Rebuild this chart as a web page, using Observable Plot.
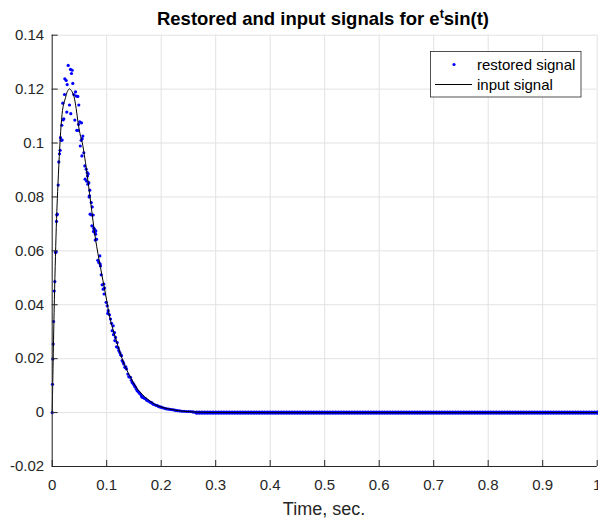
<!DOCTYPE html>
<html>
<head>
<meta charset="utf-8">
<script src="https://cdn.jsdelivr.net/npm/d3@7"></script>
<script src="https://cdn.jsdelivr.net/npm/@observablehq/plot@0.6"></script>
<style>
  html, body { margin: 0; padding: 0; background: white; }
  #chart { width: 598px; height: 525px; }
</style>
</head>
<body>
<div id="chart"></div>
<script>
// ---- data ----
const xTicks = [0, 0.1, 0.2, 0.3, 0.4, 0.5, 0.6, 0.7, 0.8, 0.9, 1];
const yTicks = [-0.02, 0, 0.02, 0.04, 0.06, 0.08, 0.1, 0.12, 0.14];

const inputTime  = [0, 0.001, 0.002, 0.004, 0.006, 0.008, 0.010, 0.013, 0.0165, 0.020, 0.0244, 0.028, 0.0317, 0.036, 0.0397, 0.044, 0.0477, 0.052, 0.055, 0.060, 0.064, 0.0703, 0.0795, 0.0886, 0.0978, 0.107, 0.116, 0.1253, 0.1345, 0.1437, 0.156, 0.1743, 0.1927, 0.223, 0.253, 0.28, 0.35, 1];
const inputValue = [0, 0.011, 0.022, 0.042, 0.058, 0.072, 0.082, 0.095, 0.107, 0.1135, 0.1168, 0.1192, 0.1201, 0.1192, 0.1174, 0.1128, 0.1072, 0.1025, 0.1003, 0.0942, 0.0884, 0.0785, 0.0643, 0.0538, 0.044, 0.0341, 0.0279, 0.0217, 0.0168, 0.0131, 0.0088, 0.0051, 0.0026, 0.001, 0.0003, 0.0001, 0, 0];

const restoredTime = [0, 0.0005, 0.0011, 0.0018, 0.0024, 0.0037, 0.0048, 0.006, 0.0073, 0.0079, 0.0085, 0.0092, 0.011, 0.0121, 0.0134, 0.0145, 0.0152, 0.0165, 0.0176, 0.0183, 0.0195, 0.0202, 0.0213, 0.0226, 0.0232, 0.0257, 0.0268, 0.0275, 0.0293, 0.0317, 0.0336, 0.0341, 0.0354, 0.0367, 0.0378, 0.0397, 0.0415, 0.0428, 0.044, 0.0451, 0.047, 0.0475, 0.0483, 0.0488, 0.0506, 0.0515, 0.0532, 0.0538, 0.0545, 0.055, 0.0562, 0.058, 0.0598, 0.0605, 0.0624, 0.063, 0.0642, 0.0648, 0.0654, 0.066, 0.0672, 0.0678, 0.0684, 0.069, 0.0696, 0.0716, 0.0721, 0.0728, 0.0734, 0.0752, 0.0758, 0.0763, 0.0776, 0.0782, 0.079, 0.0795, 0.08, 0.0807, 0.0813, 0.0837, 0.0856, 0.0874, 0.088, 0.0886, 0.0899, 0.0917, 0.0936, 0.0947, 0.0952, 0.096, 0.099, 0.1009, 0.102, 0.1028, 0.1051, 0.107, 0.1088, 0.1101, 0.1119, 0.1125, 0.1143, 0.115, 0.1161, 0.118, 0.1192, 0.1211, 0.1222, 0.124, 0.1255, 0.1272, 0.1284, 0.1303, 0.1314, 0.1333, 0.135, 0.1363, 0.1388, 0.1406, 0.142, 0.1437, 0.1452, 0.1468, 0.1485, 0.1498, 0.1515, 0.1528, 0.1545, 0.156, 0.1575, 0.159, 0.1605, 0.162, 0.1635, 0.1651, 0.167, 0.169, 0.1712, 0.1735, 0.1755, 0.1773, 0.1795, 0.1815, 0.1835, 0.1855, 0.188, 0.1905, 0.1927, 0.195, 0.1975, 0.2, 0.2025, 0.2048, 0.2075, 0.21, 0.213, 0.216, 0.2195, 0.2232, 0.2265, 0.23, 0.234, 0.238, 0.242, 0.246, 0.25, 0.2538, 0.2575, 0.26];
const restoredValue = [0, 0.0105, 0.0199, 0.0254, 0.0338, 0.0451, 0.0486, 0.0594, 0.0596, 0.0709, 0.0733, 0.0736, 0.0844, 0.093, 0.096, 0.0973, 0.102, 0.101, 0.1066, 0.1011, 0.1148, 0.1086, 0.109, 0.118, 0.1238, 0.1232, 0.1115, 0.1217, 0.1288, 0.1141, 0.1273, 0.1109, 0.1258, 0.127, 0.1221, 0.118, 0.1085, 0.119, 0.1174, 0.1047, 0.1173, 0.1047, 0.1069, 0.1141, 0.1079, 0.0989, 0.101, 0.1075, 0.0952, 0.1016, 0.1026, 0.0964, 0.0915, 0.0866, 0.0903, 0.0859, 0.089, 0.0878, 0.0847, 0.0886, 0.0853, 0.08, 0.0804, 0.0825, 0.0736, 0.0779, 0.0733, 0.0693, 0.0763, 0.0733, 0.0672, 0.0684, 0.068, 0.0668, 0.064, 0.0662, 0.0674, 0.0643, 0.0643, 0.0565, 0.0557, 0.0581, 0.0551, 0.0544, 0.0511, 0.0474, 0.0458, 0.0477, 0.044, 0.0462, 0.0409, 0.0396, 0.0368, 0.0378, 0.0363, 0.0347, 0.0331, 0.0304, 0.0322, 0.0289, 0.0297, 0.0267, 0.0279, 0.0244, 0.026, 0.024, 0.023, 0.0223, 0.0215, 0.0211, 0.0193, 0.0186, 0.018, 0.0168, 0.017, 0.0162, 0.0143, 0.0133, 0.0132, 0.0131, 0.012, 0.0112, 0.0108, 0.0104, 0.0098, 0.0094, 0.0087, 0.0081, 0.0079, 0.0075, 0.0071, 0.0069, 0.0062, 0.0057, 0.0056, 0.0053, 0.0051, 0.0046, 0.0044, 0.0042, 0.0039, 0.0037, 0.0035, 0.0031, 0.0029, 0.0027, 0.0026, 0.0023, 0.0021, 0.002, 0.0018, 0.0017, 0.0015, 0.0014, 0.0013, 0.0012, 0.0011, 0.001, 0.0008, 0.0007, 0.0006, 0.0005, 0.0005, 0.0004, 0.0004, 0.0004, 0.0003, 0.0002];

// restored samples on the flat tail (value 0)
const tailTime = [0.265, 0.27, 0.275, 0.28, 0.285, 0.29, 0.295, 0.3, 0.305, 0.31, 0.315, 0.32, 0.325, 0.33, 0.335, 0.34, 0.345, 0.35, 0.355, 0.36, 0.365, 0.37, 0.375, 0.38, 0.385, 0.39, 0.395, 0.4, 0.405, 0.41, 0.415, 0.42, 0.425, 0.43, 0.435, 0.44, 0.445, 0.45, 0.455, 0.46, 0.465, 0.47, 0.475, 0.48, 0.485, 0.49, 0.495, 0.5, 0.505, 0.51, 0.515, 0.52, 0.525, 0.53, 0.535, 0.54, 0.545, 0.55, 0.555, 0.56, 0.565, 0.57, 0.575, 0.58, 0.585, 0.59, 0.595, 0.6, 0.605, 0.61, 0.615, 0.62, 0.625, 0.63, 0.635, 0.64, 0.645, 0.65, 0.655, 0.66, 0.665, 0.67, 0.675, 0.68, 0.685, 0.69, 0.695, 0.7, 0.705, 0.71, 0.715, 0.72, 0.725, 0.73, 0.735, 0.74, 0.745, 0.75, 0.755, 0.76, 0.765, 0.77, 0.775, 0.78, 0.785, 0.79, 0.795, 0.8, 0.805, 0.81, 0.815, 0.82, 0.825, 0.83, 0.835, 0.84, 0.845, 0.85, 0.855, 0.86, 0.865, 0.87, 0.875, 0.88, 0.885, 0.89, 0.895, 0.9, 0.905, 0.91, 0.915, 0.92, 0.925, 0.93, 0.935, 0.94, 0.945, 0.95, 0.955, 0.96, 0.965, 0.97, 0.975, 0.98, 0.985, 0.99, 0.995, 1];
const tailValue = 0;

const titleMain = "Restored and input signals for e";
const titleSup = "t";
const titleEnd = "sin(t)";
const xLabel = "Time, sec.";
const legendLabels = ["restored signal", "input signal"];

// ---- build tables ----
const inputData = inputTime.map((t, i) => ({t, v: inputValue[i]}));
const restoredData = restoredTime.map((t, i) => ({t, v: restoredValue[i]}));
const tailData = tailTime.map(t => ({t, v: tailValue}));

const axisColor = "#262626";
const fmt = d => String(+d.toFixed(2));

const plot = Plot.plot({
  width: 598,
  height: 525,
  marginLeft: 51.7,
  marginRight: 1.3,
  marginTop: 34.7,
  marginBottom: 59,
  style: {fontFamily: "'Liberation Sans', Arial, Helvetica, sans-serif", fontSize: "15px", color: axisColor, background: "white", overflow: "visible"},
  x: {domain: [0, 1]},
  y: {domain: [-0.02, 0.14]},
  marks: [
    Plot.gridX(xTicks, {stroke: "#e2e2e2", strokeOpacity: 1}),
    Plot.gridY(yTicks, {stroke: "#e2e2e2", strokeOpacity: 1}),
    Plot.dot(restoredData, {x: "t", y: "v", r: 1.6, fill: "#0000ff", stroke: "none"}),
    Plot.dot(tailData, {x: "t", y: "v", r: 2.2, fill: "#0000ff", stroke: "none"}),
    Plot.line(inputData, {x: "t", y: "v", stroke: "black", strokeWidth: 1, curve: "catmull-rom"}),
    Plot.axisX(xTicks, {tickSize: -6, tickPadding: 19, tickFormat: fmt, label: null, stroke: axisColor, fill: axisColor}),
    Plot.axisY(yTicks, {tickSize: -6, tickPadding: 14, tickFormat: fmt, label: null, stroke: axisColor, fill: axisColor}),
    Plot.ruleY([-0.02], {stroke: axisColor}),
    Plot.ruleX([0], {stroke: axisColor})
  ]
});
document.getElementById("chart").appendChild(plot);

// ---- title, axis label, legend ----
const svg = d3.select(plot);
const font = "'Liberation Sans', Arial, Helvetica, sans-serif";
const title = svg.append("text")
  .attr("x", 323).attr("y", 25)
  .attr("text-anchor", "middle")
  .attr("font-family", font).attr("font-weight", "bold").attr("font-size", 18.5)
  .attr("fill", "black");
title.append("tspan").text(titleMain);
title.append("tspan").attr("dy", -7).attr("font-size", 12.5).text(titleSup);
title.append("tspan").attr("dy", 7).text(titleEnd);

svg.append("text")
  .attr("x", 324).attr("y", 515)
  .attr("text-anchor", "middle")
  .attr("font-family", font).attr("font-size", 18)
  .attr("fill", axisColor)
  .text(xLabel);

const lg = svg.append("g").attr("text-anchor", "start");
lg.append("rect").attr("x", 430.5).attr("y", 51.5).attr("width", 150.5).attr("height", 45.5)
  .attr("fill", "white").attr("stroke", axisColor).attr("stroke-width", 0.8);
lg.append("circle").attr("cx", 454).attr("cy", 64.5).attr("r", 1.6).attr("fill", "#0000ff");
lg.append("line").attr("x1", 435).attr("x2", 472).attr("y1", 84.5).attr("y2", 84.5)
  .attr("stroke", "black").attr("stroke-width", 1);
lg.append("text").attr("x", 477).attr("y", 69.5).attr("text-anchor", "start").attr("font-family", font).attr("font-size", 15)
  .attr("fill", "black").text(legendLabels[0]);
lg.append("text").attr("x", 477).attr("y", 90).attr("text-anchor", "start").attr("font-family", font).attr("font-size", 15)
  .attr("fill", "black").text(legendLabels[1]);
</script>
</body>
</html>
